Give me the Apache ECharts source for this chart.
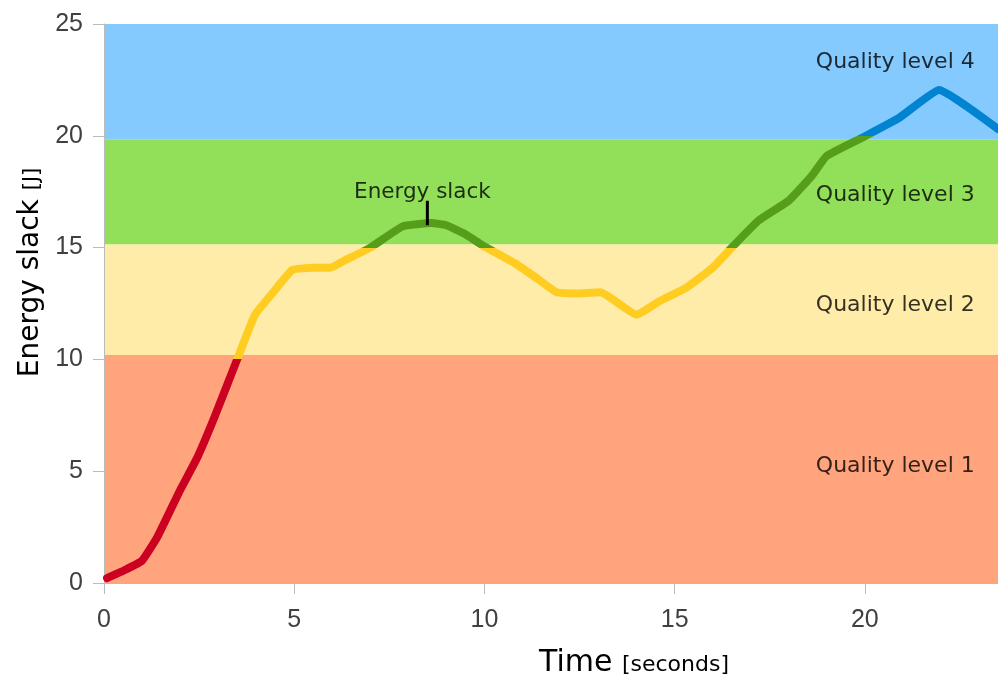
<!DOCTYPE html>
<html>
<head>
<meta charset="utf-8">
<script src="https://cdn.jsdelivr.net/npm/echarts@6/dist/echarts.min.js"></script>
<style>
  html, body { margin: 0; padding: 0; background: #ffffff; }
  #chart { width: 998px; height: 677px; }
</style>
</head>
<body>
<div id="chart"></div>
<script>
// Energy slack over time [seconds]
const timeValues = [0.08, 0.55, 1.0, 1.4, 2.0, 2.45, 2.9, 3.5, 3.97, 4.4, 4.95, 5.5, 5.95, 6.3, 7.0,
  7.85, 8.6, 9.0, 9.5, 10.0, 10.8, 11.4, 11.9, 12.5, 13.05, 14.0, 14.6, 15.3, 16.0, 16.5,
  17.2, 18.0, 18.6, 19.0, 19.97, 20.9, 21.95, 23.5];
const slackValues = [0.22, 0.58, 1.0, 2.05, 4.15, 5.6, 7.4, 10.0, 12.0, 12.9, 14.0, 14.1, 14.1, 14.4, 15.0,
  15.95, 16.1, 16.0, 15.6, 15.05, 14.3, 13.6, 13.0, 12.95, 13.0, 12.0, 12.6, 13.2, 14.1, 15.0,
  16.2, 17.1, 18.2, 19.1, 19.95, 20.8, 22.05, 20.3];

// Quality level bands [J]
const bandNames = ['Quality level 1', 'Quality level 2', 'Quality level 3', 'Quality level 4'];
const bandLower = [0, 10.2, 15.15, 19.85];
const bandUpper = [10.2, 15.15, 19.85, 25];
const bandLabelX = [20.8, 20.8, 20.8, 20.8];
const bandLabelY = [5.23, 12.4, 17.35, 23.3];

// Energy slack annotation
const noteText = 'Energy slack';
const noteX = [8.5, 8.5];
const noteY = [16.0, 17.1];
const noteLabelX = 8.37;
const noteLabelY = 17.1;

// Axis ticks
const xTicks = [0, 5, 10, 15, 20];
const xMax = 23.5;

const bandFill = ['#ffa47c', '#ffeca9', '#92e05a', '#84caff'];
const lineColors = ['#cc0020', '#ffcc22', '#579d1c', '#0083d0'];

const chart = echarts.init(document.getElementById('chart'), null, { renderer: 'canvas' });

const markAreaData = bandNames.map((n, i) => [
  { yAxis: bandLower[i], itemStyle: { color: bandFill[i] } },
  { yAxis: bandUpper[i] }
]);

const tickFont = { fontFamily: 'Liberation Sans', fontSize: 25, color: '#404040' };

chart.setOption({
  animation: false,
  backgroundColor: '#ffffff',
  grid: { left: 104, right: 0, top: 24, bottom: 94, containLabel: false, outerBoundsMode: 'none' },
  xAxis: {
    type: 'value',
    min: 0,
    max: xMax,
    interval: 5,
    name: '{t|Time }{u|[seconds]}',
    nameLocation: 'middle',
    nameGap: 65,
    nameTextStyle: {
      padding: [0, 0, 0, 166],
      rich: {
        t: { fontFamily: 'DejaVu Sans', fontSize: 30, color: '#000000' },
        u: { fontFamily: 'DejaVu Sans', fontSize: 22, color: '#000000', padding: [4, 0, 0, 0] }
      }
    },
    axisLine: { show: true, lineStyle: { color: '#bbbbbb', width: 1 } },
    axisTick: { show: true, length: 11, lineStyle: { color: '#bbbbbb' }, customValues: xTicks },
    axisLabel: Object.assign({ customValues: xTicks, margin: 25 }, tickFont),
    splitLine: { show: false }
  },
  yAxis: {
    type: 'value',
    min: 0,
    max: 25,
    interval: 5,
    name: '{t|Energy slack }{u|[J]}',
    nameLocation: 'middle',
    nameGap: 59,
    nameRotate: 90,
    nameTextStyle: {
      padding: [0, 0, 0, 62],
      rich: {
        t: { fontFamily: 'DejaVu Sans', fontSize: 28, color: '#000000' },
        u: { fontFamily: 'DejaVu Sans', fontSize: 21, color: '#000000', padding: [4, 0, 0, 0] }
      }
    },
    axisLine: { show: true, lineStyle: { color: '#bbbbbb', width: 1 } },
    axisTick: { show: true, length: 11, lineStyle: { color: '#bbbbbb' } },
    axisLabel: Object.assign({ margin: 21 }, tickFont),
    splitLine: { show: false }
  },
  visualMap: {
    show: false,
    type: 'piecewise',
    seriesIndex: 0,
    dimension: 1,
    pieces: [
      { lt: 10, color: lineColors[0] },
      { gte: 10, lt: 15, color: lineColors[1] },
      { gte: 15, lt: 20, color: lineColors[2] },
      { gte: 20, color: lineColors[3] }
    ]
  },
  series: [
    {
      name: 'Energy slack',
      type: 'line',
      data: timeValues.map((t, i) => [t, slackValues[i]]),
      showSymbol: false,
      smooth: 0.12,
      lineStyle: { width: 8, cap: 'round', join: 'round' },
      z: 5,
      markArea: {
        silent: true,
        z: 0,
        data: markAreaData
      }
    },
    {
      name: 'note',
      type: 'line',
      data: noteX.map((x, i) => [x, noteY[i]]),
      showSymbol: false,
      silent: true,
      lineStyle: { color: '#000000', width: 3 },
      z: 6
    },
    {
      name: 'labels',
      type: 'scatter',
      symbolSize: 0,
      silent: true,
      z: 7,
      data: bandNames.map((n, i) => ({ value: [bandLabelX[i], bandLabelY[i]], name: n }))
        .concat([{ value: [noteLabelX, noteLabelY], name: noteText,
          label: { position: 'top', distance: -3, align: 'center', fontSize: 21.5 } }]),
      label: {
        show: true,
        position: 'inside',
        formatter: p => p.name,
        fontFamily: 'DejaVu Sans',
        fontSize: 22,
        color: '#000000'
      }
    }
  ]
});
</script>
</body>
</html>
